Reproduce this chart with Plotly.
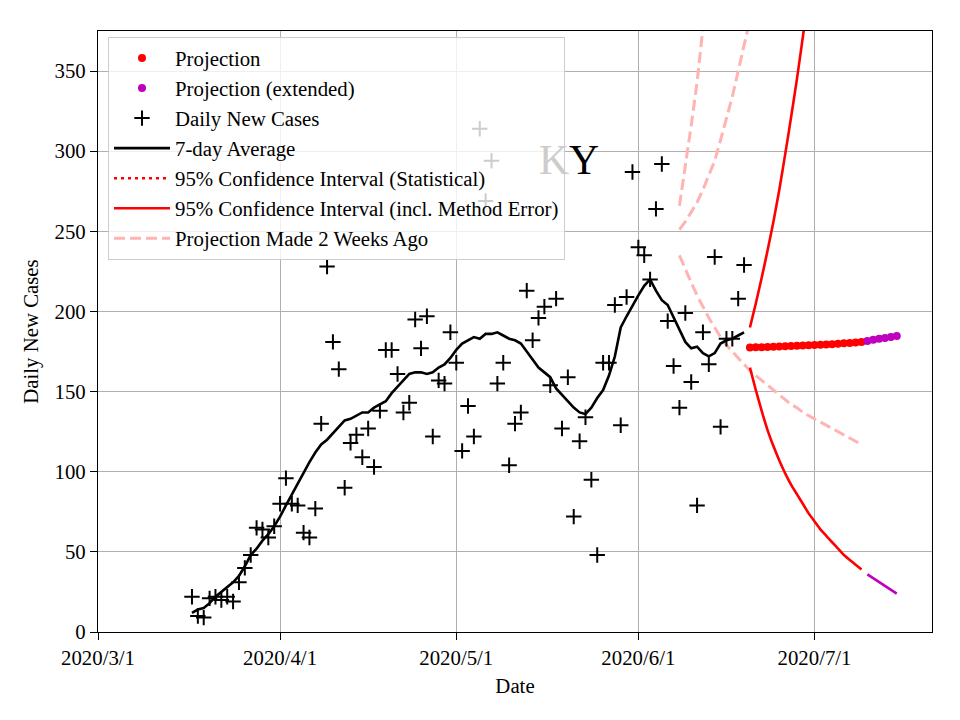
import plotly.graph_objects as go
import pandas as pd

# ---------------- data ----------------
daily_start = "2020-03-17"
daily_cases = [22, 10, 9, 21, 22, 20, 22, 19, 31, 40, 48, 65, 64, 59, 66, 80, 96, 80, 79, 62,
               59, 77, 130, 228, 181, 164, 90, 118, 123, 109, 127, 103, 138, 176, 176, 161, 137, 143, 195, 177,
               197, 122, 157, 155, 187, 168, 113, 141, 122, 314, 269, 294, 155, 168, 104, 130, 137, 213, 182, 196,
               203, 154, 208, 127, 159, 72, 119, 134, 95, 48, 168, 168, 204, 129, 209, 287, 240, 235, 220, 264,
               292, 194, 166, 140, 199, 156, 79, 187, 167, 234, 128, 183, 183, 208, 229]
avg_7day = [12, 14, 15, 18, 22, 25, 28, 31, 35, 41, 48, 52, 57, 61, 66, 72, 79, 86, 93, 99,
            106, 112, 117, 120, 124, 128, 132, 133, 135, 137, 137, 140, 142, 144, 149, 153, 157, 161, 162, 162,
            161, 162, 165, 167, 171, 176, 180, 182, 184, 183, 186, 186, 187, 185, 183, 182, 180, 175, 170, 165,
            162, 159, 152, 148, 144, 140, 137, 136, 140, 146, 151, 160, 172, 190, 197, 204, 210, 216, 220, 213,
            207, 204, 196, 188, 181, 177, 178, 174, 172, 174, 180, 182, 183, 185, 187]

proj_start = "2020-06-20"
projection = [177.5, 177.6, 177.7, 177.8, 178.0, 178.1, 178.3, 178.4, 178.6, 178.7,
              178.9, 179.0, 179.2, 179.4, 179.6, 179.8, 180.1, 180.3, 180.6, 180.9]
ext_start = "2020-07-10"
projection_ext = [181.6, 182.3, 182.9, 183.5, 184.1, 184.7]

ci_upper = [190, 205, 221, 238, 256, 276, 298, 321, 345, 371, 398, 427]
ci_lower = [165, 151, 138, 126, 116, 107, 99, 92, 86, 80, 74, 69, 64, 60, 56, 52, 48, 45, 42, 39]
ci_lower_ext = [36, 33.5, 31, 28.5, 26.2, 24]

old_start = "2020-06-08"
old_upper_a = [266, 290, 316, 343, 377]
old_upper_b = [251, 256, 262, 268, 276, 285, 294, 307, 320, 334, 350, 366, 382]
old_lower = [235, 226, 218, 210, 203, 196, 190, 184, 179, 175, 171, 167, 163, 160, 157, 154,
             151, 148, 145, 142, 140, 137, 135, 133, 131, 129, 127, 125, 123, 121, 119, 117]

tick_dates = ["2020-03-01", "2020-04-01", "2020-05-01", "2020-06-01", "2020-07-01"]
tick_text = ["2020/3/1", "2020/4/1", "2020/5/1", "2020/6/1", "2020/7/1"]
y_ticks = [0, 50, 100, 150, 200, 250, 300, 350]


def dates(start, n):
    return pd.date_range(start, periods=n, freq="D")


FONT = "Liberation Serif, Times New Roman, serif"
FS = 20.8
RED = "#ff0000"
MAG = "#bf00bf"
PINK = "#ffb3b3"

fig = go.Figure()

# Projection made 2 weeks ago (drawn first, underneath)
fig.add_trace(go.Scatter(x=dates(old_start, len(old_upper_a)), y=old_upper_a, mode="lines",
                         line=dict(color=PINK, width=3, dash="11px,5px"),
                         name="Projection Made 2 Weeks Ago", legendrank=7, showlegend=True,
                         legendgroup="old"))
fig.add_trace(go.Scatter(x=dates(old_start, len(old_upper_b)), y=old_upper_b, mode="lines",
                         line=dict(color=PINK, width=3, dash="11px,5px"),
                         showlegend=False, legendgroup="old"))
fig.add_trace(go.Scatter(x=dates(old_start, len(old_lower)), y=old_lower, mode="lines",
                         line=dict(color=PINK, width=3, dash="11px,5px"),
                         showlegend=False, legendgroup="old"))

# Daily cases
fig.add_trace(go.Scatter(x=dates(daily_start, len(daily_cases)), y=daily_cases, mode="markers",
                         marker=dict(symbol="cross-thin", size=11, line=dict(color="black", width=2)),
                         name="Daily New Cases", legendrank=3))
# 7-day average
fig.add_trace(go.Scatter(x=dates(daily_start, len(avg_7day)), y=avg_7day, mode="lines",
                         line=dict(color="black", width=2.6), name="7-day Average", legendrank=4))

# Confidence intervals
fig.add_trace(go.Scatter(x=[None], y=[None], mode="lines",
                         line=dict(color=RED, width=2.6, dash="3px,4px"),
                         name="95% Confidence Interval (Statistical)", legendrank=5))
fig.add_trace(go.Scatter(x=dates(proj_start, len(ci_upper)), y=ci_upper, mode="lines",
                         line=dict(color=RED, width=2.6, shape="spline", smoothing=0.6),
                         name="95% Confidence Interval (incl. Method Error)", legendrank=6,
                         legendgroup="ci"))
fig.add_trace(go.Scatter(x=dates(proj_start, len(ci_lower)), y=ci_lower, mode="lines",
                         line=dict(color=RED, width=2.6, shape="spline", smoothing=0.6),
                         showlegend=False, legendgroup="ci"))
fig.add_trace(go.Scatter(x=dates(ext_start, len(ci_lower_ext)), y=ci_lower_ext, mode="lines",
                         line=dict(color=MAG, width=2.6), showlegend=False))

# Projections
fig.add_trace(go.Scatter(x=dates(proj_start, len(projection)), y=projection, mode="markers",
                         marker=dict(color=RED, size=8), name="Projection", legendrank=1))
fig.add_trace(go.Scatter(x=dates(ext_start, len(projection_ext)), y=projection_ext, mode="markers",
                         marker=dict(color=MAG, size=8), name="Projection (extended)", legendrank=2))

fig.add_annotation(text='<span style="color:#cccccc">K</span>Y', xref="paper", yref="paper",
                   x=0.565, y=0.785, xanchor="center", yanchor="middle", showarrow=False,
                   font=dict(family=FONT, size=41.7, color="black"))

axis_common = dict(showline=True, linecolor="black", linewidth=1.3, mirror=True,
                   showgrid=True, gridcolor="#b0b0b0", gridwidth=1,
                   ticks="outside", ticklen=7, tickwidth=1.2, tickcolor="black",
                   tickfont=dict(family=FONT, size=FS, color="black"), zeroline=False)

fig.update_xaxes(range=["2020-03-01", "2020-07-21"], tickvals=tick_dates, ticktext=tick_text,
                 title=dict(text="Date", font=dict(family=FONT, size=FS, color="black"), standoff=10),
                 **axis_common)
fig.update_yaxes(range=[0, 375], tickvals=y_ticks,
                 title=dict(text="Daily New Cases", font=dict(family=FONT, size=FS, color="black"), standoff=10),
                 **axis_common)

# page has an 8px body margin, so margins are shifted by 8px
fig.update_layout(
    width=960, height=720,
    margin=dict(l=90, r=36, t=23, b=96),
    paper_bgcolor="white", plot_bgcolor="white",
    font=dict(family=FONT, size=FS, color="black"),
    legend=dict(x=0.012, y=0.99, xanchor="left", yanchor="top",
                bgcolor="rgba(255,255,255,0.8)", bordercolor="#cccccc", borderwidth=1,
                font=dict(family=FONT, size=FS, color="black"), itemwidth=56,
                traceorder="normal"),
    showlegend=True,
)

fig.write_html("out.html")
